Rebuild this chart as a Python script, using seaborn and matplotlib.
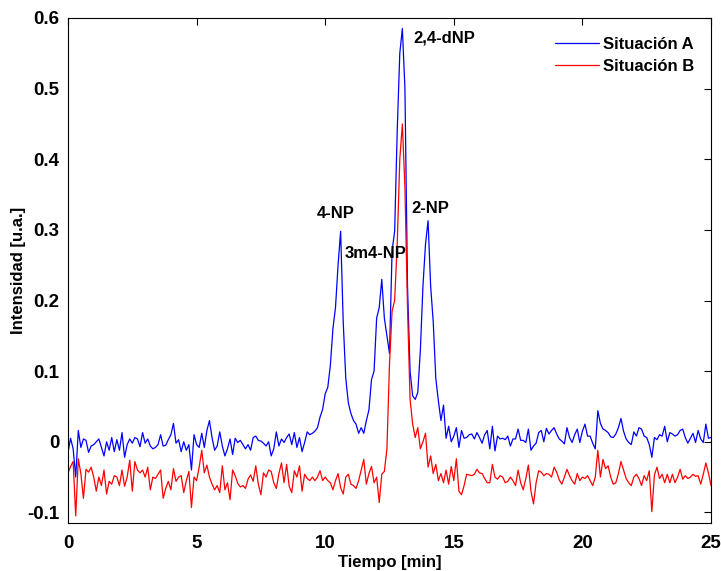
import numpy as np
import pandas as pd
import matplotlib
matplotlib.use("Agg")
import matplotlib.pyplot as plt
import seaborn as sns

# ---------------- data ----------------
series_names = ["Situación A", "Situación B"]
series_colors = ["#0000ff", "#ff0000"]

# uniform sampling of the chromatogram: 0 to 25 min, every 0.1 min
time_start, time_end, n_samples = 0.0, 25.0, 251

intensity_a = [
    -0.015, 0.005, -0.010, -0.050, 0.016, -0.008, 0.004, 0.002, -0.015, -0.006,
    -0.004, 0.000, 0.004, -0.008, -0.020, 0.000, -0.012, 0.006, -0.014, 0.003,
    -0.012, 0.013, -0.022, -0.004, 0.004, -0.002, 0.006, 0.004, -0.007, 0.013,
    -0.002, 0.004, -0.006, -0.010, -0.008, -0.004, 0.010, -0.006, -0.005, 0.003,
    0.010, 0.026, -0.002, 0.003, -0.014, 0.000, -0.012, -0.004, -0.040, 0.010,
    -0.004, -0.008, 0.012, -0.008, 0.016, 0.030, 0.006, -0.012, -0.006, 0.014,
    -0.006, -0.020, -0.010, 0.004, -0.018, 0.005, -0.001, 0.002, -0.004, -0.010,
    -0.004, -0.012, 0.006, 0.008, 0.002, 0.001, -0.002, -0.006, 0.000, -0.020,
    -0.010, 0.014, -0.006, 0.004, -0.001, 0.006, 0.011, -0.004, 0.013, -0.008,
    0.006, -0.014, -0.001, 0.014, 0.010, 0.012, 0.015, 0.020, 0.035, 0.046,
    0.068, 0.077, 0.108, 0.160, 0.190, 0.250, 0.298, 0.170, 0.090, 0.055,
    0.040, 0.030, 0.025, 0.012, 0.020, 0.012, 0.030, 0.045, 0.088, 0.100,
    0.175, 0.190, 0.230, 0.175, 0.150, 0.125, 0.270, 0.298, 0.440, 0.550,
    0.585, 0.500, 0.220, 0.100, 0.065, 0.060, 0.070, 0.130, 0.220, 0.280,
    0.313, 0.220, 0.170, 0.090, 0.058, 0.030, 0.052, 0.005, 0.022, 0.000,
    0.008, 0.020, -0.008, 0.016, 0.005, 0.006, 0.010, 0.011, 0.004, 0.013,
    0.006, -0.002, 0.010, 0.016, -0.010, 0.022, -0.013, 0.008, 0.004, 0.005,
    0.003, 0.008, -0.006, 0.004, 0.004, 0.018, 0.002, 0.002, -0.001, 0.018,
    -0.012, -0.006, -0.002, 0.013, 0.016, 0.000, 0.019, 0.011, 0.016, 0.020,
    0.011, 0.004, 0.001, -0.003, 0.020, 0.006, -0.001, 0.010, 0.018, -0.001,
    0.015, 0.025, 0.008, 0.008, -0.002, -0.010, 0.044, 0.026, 0.018, 0.016,
    0.013, 0.007, 0.006, 0.011, 0.020, 0.033, 0.015, 0.004, -0.001, -0.004,
    0.014, 0.008, 0.020, 0.018, 0.008, 0.006, -0.004, -0.022, 0.006, 0.003,
    0.010, 0.008, 0.022, 0.000, 0.013, 0.011, 0.008, 0.010, 0.016, 0.018,
    0.006, -0.002, 0.005, 0.012, -0.001, 0.016, 0.004, -0.001, 0.025, 0.005,
    0.006,
]

intensity_b = [
    -0.044, -0.035, -0.028, -0.105, -0.024, -0.045, -0.080, -0.039, -0.043, -0.036,
    -0.050, -0.070, -0.050, -0.062, -0.040, -0.074, -0.056, -0.060, -0.048, -0.050,
    -0.062, -0.040, -0.063, -0.050, -0.026, -0.070, -0.028, -0.040, -0.044, -0.040,
    -0.050, -0.036, -0.068, -0.050, -0.052, -0.046, -0.040, -0.080, -0.066, -0.056,
    -0.068, -0.038, -0.056, -0.050, -0.048, -0.072, -0.055, -0.042, -0.093, -0.050,
    -0.055, -0.036, -0.012, -0.044, -0.033, -0.050, -0.060, -0.068, -0.062, -0.072,
    -0.034, -0.068, -0.058, -0.082, -0.040, -0.048, -0.059, -0.064, -0.062, -0.066,
    -0.053, -0.047, -0.056, -0.034, -0.060, -0.075, -0.044, -0.050, -0.040, -0.042,
    -0.058, -0.066, -0.045, -0.030, -0.058, -0.032, -0.063, -0.072, -0.041, -0.050,
    -0.034, -0.070, -0.046, -0.052, -0.055, -0.050, -0.055, -0.050, -0.041, -0.055,
    -0.050, -0.055, -0.058, -0.068, -0.055, -0.045, -0.065, -0.074, -0.050, -0.046,
    -0.060, -0.062, -0.066, -0.055, -0.040, -0.025, -0.060, -0.045, -0.035, -0.058,
    -0.050, -0.086, -0.046, -0.042, -0.010, 0.110, 0.185, 0.200, 0.280, 0.400,
    0.450, 0.360, 0.190, 0.060, 0.025, 0.006, 0.020, -0.010, 0.000, 0.012,
    -0.036, -0.020, -0.045, -0.032, -0.055, -0.045, -0.058, -0.040, -0.060, -0.035,
    -0.055, -0.024, -0.070, -0.075, -0.062, -0.046, -0.047, -0.048, -0.046, -0.039,
    -0.044, -0.045, -0.052, -0.058, -0.058, -0.032, -0.050, -0.053, -0.048, -0.050,
    -0.058, -0.056, -0.050, -0.055, -0.062, -0.040, -0.058, -0.068, -0.052, -0.033,
    -0.070, -0.088, -0.058, -0.041, -0.043, -0.048, -0.045, -0.046, -0.050, -0.036,
    -0.043, -0.054, -0.060, -0.050, -0.039, -0.048, -0.055, -0.060, -0.045, -0.055,
    -0.050, -0.052, -0.048, -0.055, -0.062, -0.050, -0.012, -0.050, -0.025, -0.038,
    -0.034, -0.050, -0.060, -0.058, -0.045, -0.028, -0.040, -0.052, -0.058, -0.062,
    -0.050, -0.046, -0.052, -0.062, -0.048, -0.055, -0.041, -0.099, -0.047, -0.036,
    -0.052, -0.046, -0.058, -0.046, -0.058, -0.046, -0.058, -0.050, -0.039, -0.053,
    -0.048, -0.052, -0.050, -0.046, -0.049, -0.048, -0.060, -0.046, -0.030, -0.044,
    -0.062,
]

x_ticks = [0, 5, 10, 15, 20, 25]
x_tick_labels = ["0", "5", "10", "15", "20", "25"]
y_ticks = [-0.1, 0.0, 0.1, 0.2, 0.3, 0.4, 0.5, 0.6]
y_tick_labels = ["-0.1", "0", "0.1", "0.2", "0.3", "0.4", "0.5", "0.6"]

peak_names = ["4-NP", "3m4-NP", "2,4-dNP", "2-NP"]
peak_text_t = [9.67, 10.74, 13.44, 13.34]
peak_text_v = [0.323, 0.266, 0.572, 0.330]

x_label = "Tiempo [min]"
y_label = "Intensidad [u.a.]"

# ---------------- figure ----------------
sns.set_theme(style="white", rc={
    "axes.edgecolor": "black", "text.color": "black",
    "xtick.color": "black", "ytick.color": "black",
    "axes.labelcolor": "black",
})
plt.rcParams["font.family"] = ["Liberation Sans", "DejaVu Sans"]
plt.rcParams["font.weight"] = "bold"
plt.rcParams["axes.labelweight"] = "bold"

time_min = np.linspace(time_start, time_end, n_samples)
df = pd.DataFrame({
    "Tiempo": np.concatenate([time_min, time_min]),
    "Intensidad": np.array(intensity_a + intensity_b),
    "Serie": [series_names[0]] * n_samples + [series_names[1]] * n_samples,
})

fig = plt.figure(figsize=(7.21, 5.71), dpi=100)
ax = fig.add_axes([68 / 721, (571 - 523) / 571, 643 / 721, 505 / 571])

sns.lineplot(data=df, x="Tiempo", y="Intensidad", hue="Serie",
             hue_order=series_names,
             palette=dict(zip(series_names, series_colors)),
             estimator=None, sort=False, linewidth=0.9, ax=ax)

ax.set_xlim(0, 25)
ax.set_ylim(-0.115, 0.6)
ax.set_xticks(x_ticks)
ax.set_xticklabels(x_tick_labels)
ax.set_yticks(y_ticks)
ax.set_yticklabels(y_tick_labels)
ax.tick_params(direction="in", top=True, right=True, length=5, width=0.8,
               labelsize=13.5)
ax.tick_params(axis="x", pad=8.5)
ax.tick_params(axis="y", pad=6)
for s in ax.spines.values():
    s.set_visible(True)
    s.set_color("black")
    s.set_linewidth(0.8)

ax.set_xlabel(x_label, fontsize=12, fontweight="bold", labelpad=2)
ax.set_ylabel(y_label, fontsize=12, fontweight="bold", labelpad=1)

for name, tx, ty in zip(peak_names, peak_text_t, peak_text_v):
    ax.text(tx, ty, name, ha="left", va="center", fontsize=12,
            fontweight="bold")

handles, labels = ax.get_legend_handles_labels()
leg = ax.legend(handles, labels, frameon=False, loc="upper left",
                bbox_to_anchor=(0.757, 0.962), borderaxespad=0, borderpad=0,
                handlelength=2.65, handletextpad=0.25, labelspacing=0.42,
                prop={"weight": "bold", "size": 12})
for h in leg.get_lines():
    h.set_linewidth(0.9)

fig.savefig("out.png", dpi=100)
